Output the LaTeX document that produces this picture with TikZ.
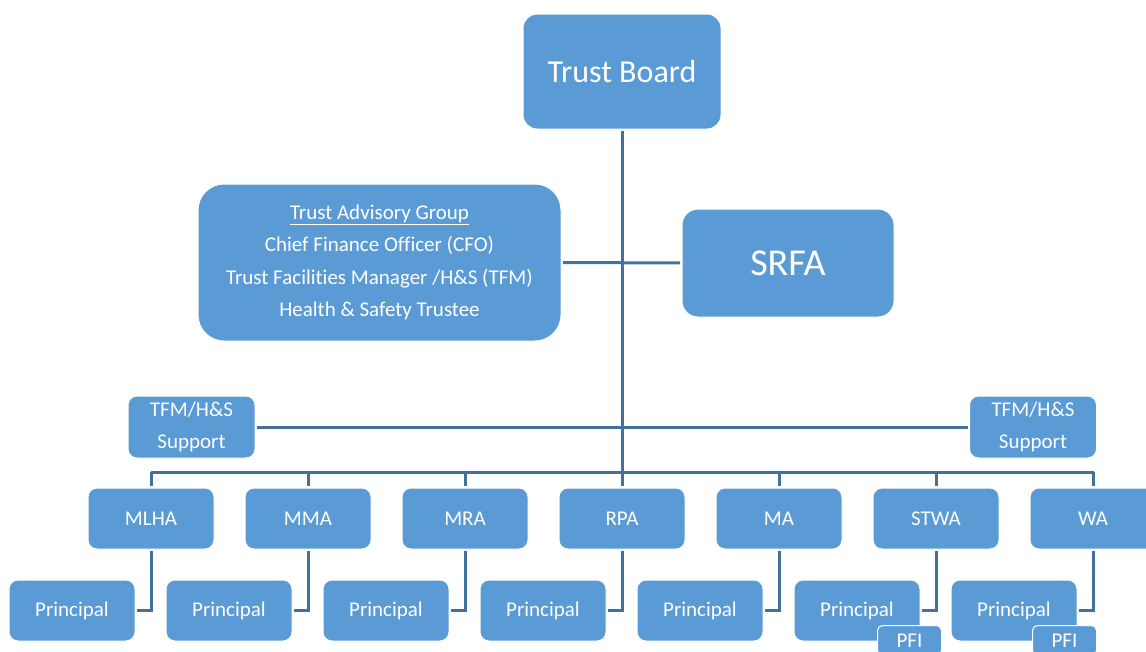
\documentclass[tikz,border=0pt]{standalone}
\usepackage{fontspec}
\setmainfont{Carlito}[Ligatures=NoCommon]
\usetikzlibrary{positioning}
\definecolor{boxblue}{HTML}{5B9BD5}
\definecolor{lineblue}{HTML}{41719C}
\tikzset{
	unit/.style={fill=boxblue,draw=white,line width=1pt,rounded corners=9pt,text=white,minimum width=126pt,minimum height=61pt,inner sep=0pt,align=center,font=\fontsize{21}{32.5}\selectfont},
	bigunit/.style={unit,font=\fontsize{32}{38}\selectfont},
	link/.style={draw=lineblue,line width=3pt,shorten <=1.5pt,shorten >=1.5pt},
}
\begin{document}
\begin{tikzpicture}[x=1pt,y=-1pt]
		\clip (0,0) rectangle (1146,651);
		\node[bigunit,minimum width=198pt,minimum height=115pt,rounded corners=14pt] (board) at (622,71.5) {Trust Board};
		\node[unit,minimum width=363pt,minimum height=157pt,rounded corners=26pt] (tag) at (379.5,262.5) {\underline{Trust Advisory Group}\\Chief Finance Officer (CFO)\\Trust Facilities Manager /H\&S (TFM)\\Health \& Safety Trustee};
		\node[bigunit,minimum width=212pt,minimum height=108pt,rounded corners=16pt,font=\fontsize{38}{44}\selectfont] (srfa) at (788,263) {SRFA};
		\node[unit,minimum width=127pt,minimum height=62pt] (tfmL) at (191.5,427) {TFM/H\&S\\Support};
		\node[unit,minimum width=127pt,minimum height=62pt] (tfmR) at (1033,427) {TFM/H\&S\\Support};
		\foreach \nm [count=\i from 0] in {MLHA,MMA,MRA,RPA,MA,STWA,WA}{
			\node[unit] (a\i) at ({151+157*\i},518.5) {\nm};
			\node[unit] (p\i) at ({72+157*\i},610.5) {Principal};
		}
		\node[unit,minimum width=64pt,minimum height=30pt,rounded corners=5pt,anchor=north west] (pfi5) at (877,625) {PFI};
		\node[unit,minimum width=64pt,minimum height=30pt,rounded corners=5pt,anchor=north west] (pfi6) at (1032,625) {PFI};
		
		\draw[link] (board.south) -- (a3.north);
		\draw[link] (tag.east) -- (srfa.west);
		\draw[link] (tfmL.east) -- (tfmR.west);
		\draw[link,shorten <=0pt,shorten >=0pt] (151,472) -- (1094,472);
		\foreach \i in {0,...,6}{
			\draw[link,shorten <=0pt] (a\i.north) ++(0,-16) -- (a\i.north);
			\draw[link] (a\i.south) |- (p\i.east);
		}
\end{tikzpicture}
\end{document}
